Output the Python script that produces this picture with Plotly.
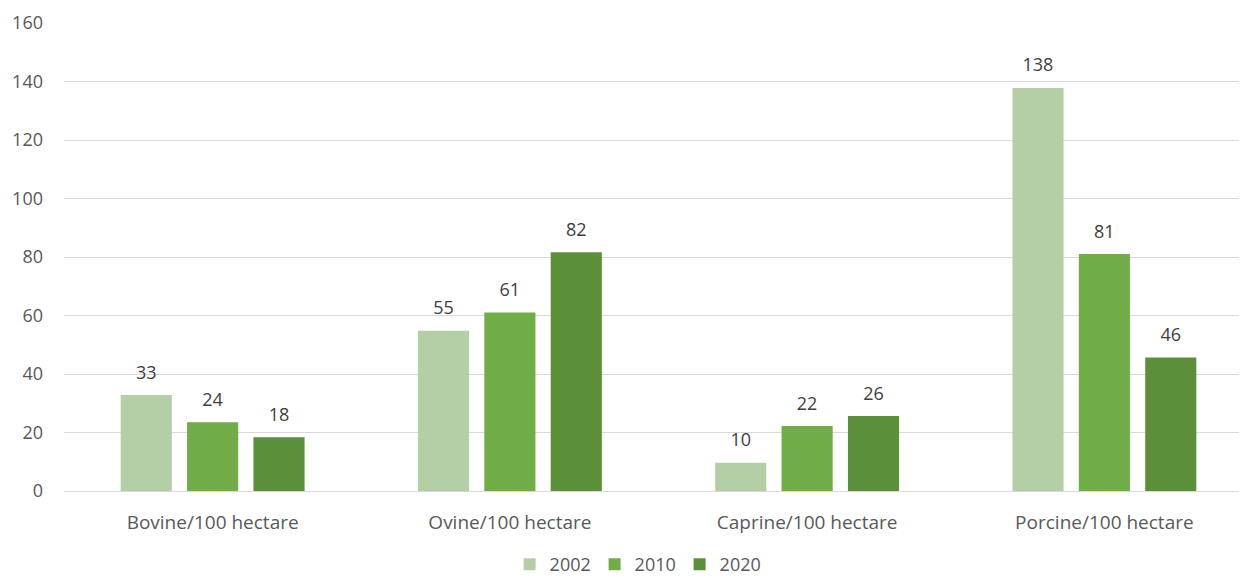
import plotly.graph_objects as go

# data
categories = ["Bovine/100 hectare", "Ovine/100 hectare", "Caprine/100 hectare", "Porcine/100 hectare"]
years = ["2002", "2010", "2020"]
vals_2002 = [32.8, 54.8, 9.7, 137.8]
vals_2010 = [23.5, 61.0, 22.2, 81.0]
vals_2020 = [18.4, 81.6, 25.6, 45.6]

series = [vals_2002, vals_2010, vals_2020]
colors = ["#b4cfa6", "#70ad47", "#5b8f3a"]
font_family = "'Open Sans', sans-serif"
text_col = "#595959"

fig = go.Figure()

for name, vals, col in zip(years, series, colors):
    fig.add_trace(go.Bar(
        x=categories,
        y=vals,
        name=name,
        offsetgroup=name,
        marker=dict(color=col, line=dict(width=0)),
        hoverinfo="x+y+name",
    ))

# value labels as grouped scatter text, so the gap above the bar can be tuned
# via an invisible marker
for name, vals in zip(years, series):
    fig.add_trace(go.Scatter(
        x=categories,
        y=vals,
        mode="markers+text",
        offsetgroup=name,
        marker=dict(size=17.6, opacity=0),
        texttemplate="%{y:.0f}",
        textposition="top center",
        textfont=dict(size=18, color="#404040", family=font_family),
        showlegend=False,
        hoverinfo="skip",
        cliponaxis=False,
    ))

fig.update_layout(
    width=1247, height=578,
    autosize=False,
    margin=dict(l=56, r=2, t=15, b=95),
    paper_bgcolor="white",
    plot_bgcolor="white",
    barmode="group",
    scattermode="group",
    bargap=0.33,
    bargroupgap=0.23,
    font=dict(family=font_family, size=18, color=text_col),
    showlegend=True,
    legend=dict(
        orientation="h",
        x=0.482, xanchor="center",
        yref="container",
        y=0.037, yanchor="middle",
        font=dict(size=18, color=text_col),
        itemwidth=30,
        entrywidth=40,
    ),
    xaxis=dict(
        showline=False,
        ticks="",
        ticklabelstandoff=18,
        tickfont=dict(size=19, color=text_col),
    ),
    yaxis=dict(
        range=[0, 160],
        dtick=20,
        showgrid=True,
        gridcolor="#d9d9d9",
        gridwidth=1,
        zeroline=True,
        zerolinecolor="#d9d9d9",
        zerolinewidth=1,
        ticks="",
        ticklabelstandoff=20,
        tickfont=dict(size=18, color=text_col),
    ),
)

fig.write_html("out.html")
